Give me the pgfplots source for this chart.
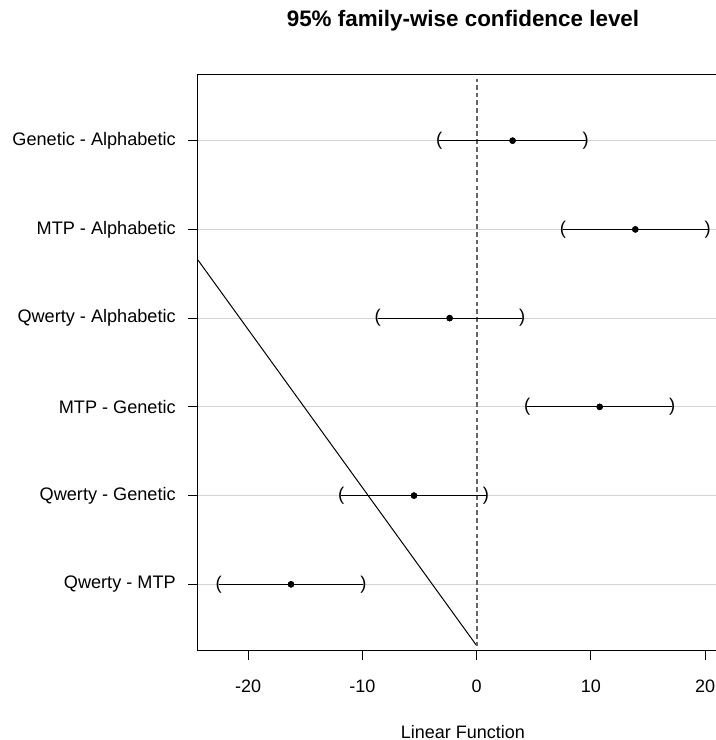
\documentclass[border=0pt]{standalone}
\usepackage{pgfplots}
\usepackage{pgfplotstable}
\pgfplotsset{compat=1.18}
\usepackage{fontspec}
\setmainfont{Liberation Sans}
\definecolor{gridgray}{HTML}{D3D3D3}

\pgfplotstableread{
y lo est hi
6 -3.27 3.15 9.55
5 7.56 13.89 20.23
4 -8.65 -2.36 3.98
3 4.42 10.77 17.12
2 -11.85 -5.48 0.81
1 -22.57 -16.24 -9.90
}\cidata

\begin{document}
\begin{tikzpicture}
\begin{axis}[
  name=ax,
  scale only axis,
  width=397.5pt, height=431.25pt,
  xmin=-24.38, xmax=22.0,
  ymin=0.26, ymax=6.74,
  axis line style={line width=0.75pt},
  xtick={-20,-10,0,10,20},
  xticklabels={-20,-10,0,10,20},
  ytick={1,2,3,4,5,6},
  yticklabels={Qwerty - MTP, Qwerty - Genetic, MTP - Genetic, Qwerty - Alphabetic, MTP - Alphabetic, Genetic - Alphabetic},
  tick align=outside,
  xtick pos=bottom, ytick pos=left,
  major tick length=7.5pt,
  tick style={black, line width=0.75pt},
  ymajorgrids,
  grid style={gridgray, line width=0.75pt},
  xticklabel style={font=\fontsize{13.5}{15}\selectfont, anchor=base, yshift=-24.5pt},
  yticklabel style={font=\fontsize{13.6}{15}\selectfont, anchor=east, inner sep=0pt, xshift=-9pt},
  xlabel={Linear Function},
  xlabel style={font=\fontsize{13.5}{15}\selectfont, at={(rel axis cs:0.5,0)}, anchor=base, yshift=-66pt},
  title={\textbf{95\% family-wise confidence level}},
  title style={font=\fontsize{16.8}{18}\selectfont, at={(rel axis cs:0.5,1)}, anchor=base, yshift=30pt},
]
% diagonal line
\addplot[black, line width=0.75pt] coordinates {(-24.38,4.654) (0,0.31)};
% zero reference
\addplot[black!60, line width=1.4pt, dash pattern=on 3.5pt off 2.3pt] coordinates {(0,0.3) (0,6.7)};
% interval lines
\addplot[black, line width=0.75pt, only marks, mark=none,
  error bars/.cd, x dir=both, x explicit, error mark=none,
  error bar style={black, line width=0.8pt}]
  table[x=est, y=y, x error minus expr={\thisrow{est}-\thisrow{lo}}, x error plus expr={\thisrow{hi}-\thisrow{est}}] {\cidata};
% interval ends
\addplot[only marks, mark=text, text mark={(}, text mark as node=true,
  text mark style={anchor=center, inner sep=0pt, font=\fontsize{13.8}{15}\selectfont}]
  table[x=lo, y=y] {\cidata};
\addplot[only marks, mark=text, text mark={)}, text mark as node=true,
  text mark style={anchor=center, inner sep=0pt, font=\fontsize{13.8}{15}\selectfont}]
  table[x=hi, y=y] {\cidata};
% estimates
\addplot[only marks, mark=*, mark size=2.2pt, mark options={fill=black, draw=black}]
  table[x=est, y=y] {\cidata};
\end{axis}
\pgfresetboundingbox
\useasboundingbox ([xshift=-148.5pt, yshift=-67.5pt]ax.south west) rectangle ([xshift=388.5pt, yshift=56.25pt]ax.north west);
\end{tikzpicture}
\end{document}
